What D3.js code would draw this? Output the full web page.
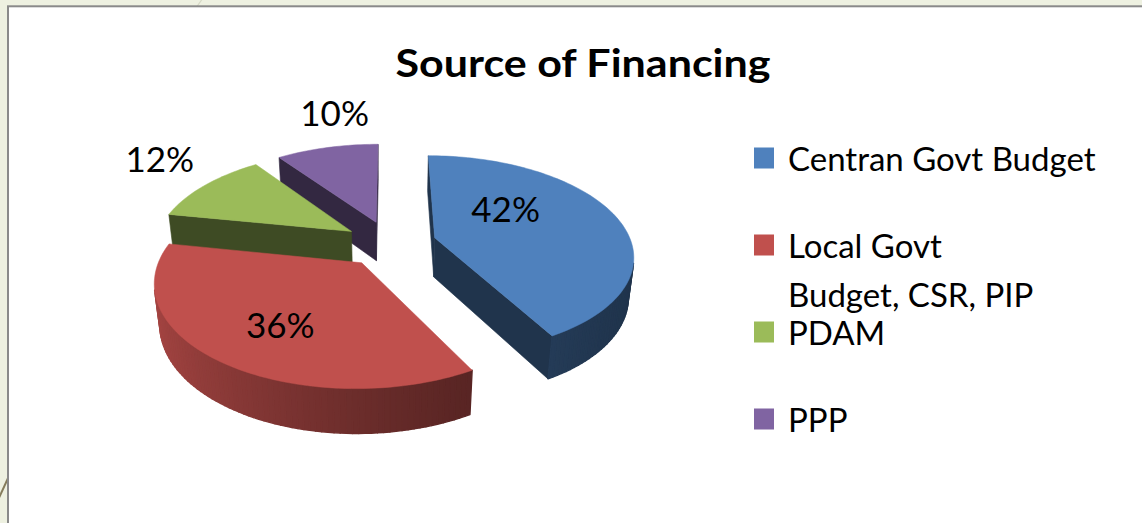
<!DOCTYPE html>
<html><head><meta charset="utf-8">
<script src="https://cdn.jsdelivr.net/npm/d3@7"></script>
<style>body{margin:0;background:#fff}svg{display:block}</style>
</head><body>
<svg id="chart" width="1142" height="523"></svg>
<script>
// ---- data ----
const categories = ["Centran Govt Budget", "Local Govt Budget, CSR, PIP", "PDAM", "PPP"];
const values = [42, 36, 12, 10];
const valueLabels = ["42%", "36%", "12%", "10%"];
const legendLines = [["Centran Govt Budget"], ["Local Govt", "Budget, CSR, PIP"], ["PDAM"], ["PPP"]];
const colors = ["#4f81bd", "#c0504d", "#9bbb59", "#8064a2"];
const title = "Source of Financing";

// ---- layout ----
const W = 1142, H = 523;
const FONT = "Lato, 'Open Sans', sans-serif";
const svg = d3.select("#chart");

svg.append("rect").attr("width", W).attr("height", H).attr("fill", "#eef1e1");
svg.append("line").attr("x1", 203).attr("y1", -2).attr("x2", 193).attr("y2", 12)
  .attr("stroke", "#d6d9c6").attr("stroke-width", 1.2);
svg.append("line").attr("x1", 9).attr("y1", 476).attr("x2", -2).attr("y2", 500)
  .attr("stroke", "#857c5c").attr("stroke-width", 2);
svg.append("rect").attr("x", 8).attr("y", 6.3).attr("width", W).attr("height", H)
  .attr("fill", "#fff").attr("stroke", "#8a8a8a").attr("stroke-width", 2);

svg.append("text").attr("x", 583).attr("y", 77).attr("text-anchor", "middle")
  .attr("font-family", FONT).attr("font-weight", "bold").attr("font-size", 39)
  .attr("textLength", 375).attr("lengthAdjust", "spacingAndGlyphs")
  .attr("fill", "#000").text(title);

// ---- 3D projection ----
const E = 29.7 * Math.PI / 180, sE = Math.sin(E), cE = Math.cos(E);
const D = 5.2, F = 1024, TH = 0.235, EXP = 0.2365;
const CX = 390, CY = 243.5;
const camera = [0, D * sE, D * cE];
function P(x, y, z) {
  const depth = D - (y * sE + z * cE);
  const up = y * cE - z * sE;
  return [CX + F * x / depth, CY - F * up / depth];
}
function facing(n, p) {
  return n[0] * (camera[0] - p[0]) + n[1] * (camera[1] - p[1]) + n[2] * (camera[2] - p[2]) > 0;
}
function shade(c, f) {
  const r = d3.rgb(c);
  return d3.rgb(r.r * f, r.g * f, r.b * f).formatHex();
}
const poly = d3.line().curve(d3.curveLinearClosed);

const arcs = d3.pie().sort(null).value(d => d)(values);
const slices = arcs.map((a, i) => {
  const m = (a.startAngle + a.endAngle) / 2;
  return Object.assign({}, a, { i, m, ox: EXP * Math.sin(m), oz: -EXP * Math.cos(m) });
});
const order = slices.slice().sort((a, b) => a.oz - b.oz);
const pieG = svg.append("g");

order.forEach(s => {
  const g = pieG.append("g");
  const col = colors[s.i];
  const pt = (th, r, y) => P(s.ox + r * Math.sin(th), y, s.oz - r * Math.cos(th));
  const p3 = (th, r, y) => [s.ox + r * Math.sin(th), y, s.oz - r * Math.cos(th)];
  const a0 = s.startAngle, a1 = s.endAngle;
  const n = Math.max(6, Math.ceil((a1 - a0) / (2 * Math.PI) * 240));
  const ths = d3.range(n + 1).map(k => a0 + (a1 - a0) * k / n);
  // radial walls
  const walls = [
    { th: a0, nrm: [-Math.cos(a0), 0, -Math.sin(a0)] },
    { th: a1, nrm: [Math.cos(a1), 0, Math.sin(a1)] }
  ];
  walls.forEach(w => {
    if (!facing(w.nrm, p3(w.th, 0.5, -TH / 2))) return;
    g.append("path")
      .attr("d", poly([pt(w.th, 0, 0), pt(w.th, 1, 0), pt(w.th, 1, -TH), pt(w.th, 0, -TH)]))
      .attr("fill", shade(col, 0.4)).attr("stroke", shade(col, 0.4)).attr("stroke-width", 0.6);
  });
  // outer curved wall
  for (let k = 0; k < n; k++) {
    const t0 = ths[k], t1 = ths[k + 1], tm = (t0 + t1) / 2;
    const nrm = [Math.sin(tm), 0, -Math.cos(tm)];
    if (!facing(nrm, p3(tm, 1, -TH / 2))) continue;
    const f = 0.40 + 0.46 * Math.pow((1 - Math.sin(tm)) / 2, 1.5);
    const c = shade(col, f);
    g.append("path")
      .attr("d", poly([pt(t0, 1, 0), pt(t1, 1, 0), pt(t1, 1, -TH), pt(t0, 1, -TH)]))
      .attr("fill", c).attr("stroke", c).attr("stroke-width", 1.4).attr("stroke-linejoin", "round");
  }
  // top face
  const top = [pt(0, 0, 0)].concat(ths.map(t => pt(t, 1, 0)));
  g.append("path").attr("d", poly(top)).attr("fill", col).attr("stroke", col).attr("stroke-width", 0.5);
});

// ---- value labels (placed on the pie's top plane) ----
const labelSpots = [[52, 0.50], [212.5, 0.65], [307, 1.46], [349, 1.51]];
slices.forEach(s => {
  const [deg, r] = labelSpots[s.i];
  const th = deg * Math.PI / 180;
  const [x, y] = P(s.ox + r * Math.sin(th), 0, s.oz - r * Math.cos(th));
  svg.append("text").attr("x", x).attr("y", y + 12.5).attr("text-anchor", "middle")
    .attr("font-family", FONT).attr("font-size", 35).attr("fill", "#000")
    .text(valueLabels[s.i]);
});

// ---- legend ----
const LX = 754, LY0 = 158, LSTEP = 87, LINE = 49;
categories.forEach((c, i) => {
  const cy = LY0 + i * LSTEP;
  svg.append("rect").attr("x", LX).attr("y", cy - 10.5).attr("width", 20).attr("height", 21)
    .attr("fill", colors[i]);
  legendLines[i].forEach((t, j) => {
    svg.append("text").attr("x", LX + 34).attr("y", cy + 13 + j * LINE)
      .attr("font-family", FONT).attr("font-size", 33).attr("fill", "#000").text(t);
  });
});
</script>
</body></html>
